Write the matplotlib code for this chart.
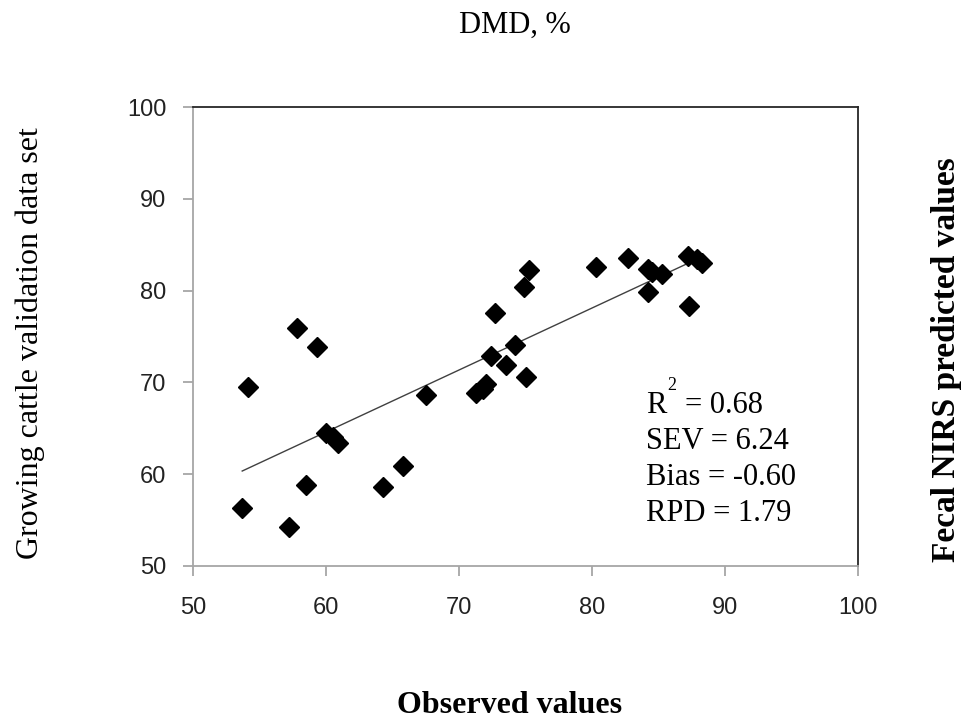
import numpy as np
import matplotlib
matplotlib.use("Agg")
import matplotlib.pyplot as plt

# observed vs predicted DMD (%)
observed = [53.7, 54.1, 57.2, 57.8, 59.3, 58.5, 60.0, 60.5, 60.9, 64.3, 65.8,
            67.5, 71.3, 71.8, 72.0, 72.4, 72.7, 73.5, 74.2, 75.0, 74.9, 75.3,
            80.3, 82.7, 84.2, 84.5, 85.3, 84.2, 87.3, 87.2, 87.9, 88.3]
predicted = [56.3, 69.5, 54.3, 75.9, 73.9, 58.8, 64.5, 64.0, 63.4, 58.6, 60.9,
             68.6, 68.8, 69.3, 69.8, 72.9, 77.6, 71.9, 74.1, 70.6, 80.4, 82.2,
             82.6, 83.5, 82.3, 82.0, 81.8, 79.8, 78.3, 83.8, 83.4, 83.0]
stats = ["= 0.68", "SEV = 6.24", "Bias = -0.60", "RPD = 1.79"]
ticks = [50, 60, 70, 80, 90, 100]

x = np.array(observed)
y = np.array(predicted)

W, H = 967, 719
fig = plt.figure(figsize=(W/100, H/100), dpi=100)
ax = fig.add_axes([193/W, 1-566/H, (858-193)/W, (566-107)/H])

ax.plot(x, y, 'D', color='black', markersize=10, zorder=3)

# linear trend line over data range
k, b = np.polyfit(x, y, 1)
xl = np.array([x.min(), x.max()])
ax.plot(xl, k*xl + b, color='#404040', lw=1, zorder=2)

ax.set_xlim(50, 100)
ax.set_ylim(50, 100)
ax.set_xticks(ticks)
ax.set_yticks(ticks)
for s in ['left', 'bottom']:
    ax.spines[s].set_color('#a6a6a6')
for s in ['top', 'right']:
    ax.spines[s].set_color('#262626')
for s in ax.spines.values():
    s.set_linewidth(1.3)
ax.tick_params(direction='out', length=7, width=1.3, color='#a6a6a6',
               labelsize=17, pad=12, labelcolor='#222222')
ax.tick_params(axis='x', pad=15)
for lab in ax.get_xticklabels() + ax.get_yticklabels():
    lab.set_fontfamily('Liberation Sans')

serif = 'Liberation Serif'

# statistics block, one line per baseline
def px(xp, yp):
    return xp/W, 1-yp/H

for i, line in enumerate(stats):
    x0 = 685 if i == 0 else 646
    fig.text(*px(x0, 413 + 36*i), line, fontsize=22, family=serif,
             va='baseline', ha='left')
fig.text(*px(646, 413), "R", fontsize=22, family=serif, va='baseline', ha='left')
fig.text(*px(667, 390), "2", fontsize=13, family=serif, va='baseline', ha='left')

fig.text(*px(515, 33), "DMD, %", ha='center', va='baseline',
         fontsize=22, family=serif)
fig.text(*px(510, 713), "Observed values", ha='center', va='baseline',
         fontsize=23, family=serif, fontweight='bold')
fig.text(*px(30, 343), "Growing cattle validation data set", ha='center',
         va='center', rotation=90, fontsize=23, family=serif)
fig.text(*px(946, 360), "Fecal NIRS predicted values", ha='center',
         va='center', rotation=90, fontsize=24, family=serif, fontweight='bold')

fig.savefig("out.png", dpi=100)
